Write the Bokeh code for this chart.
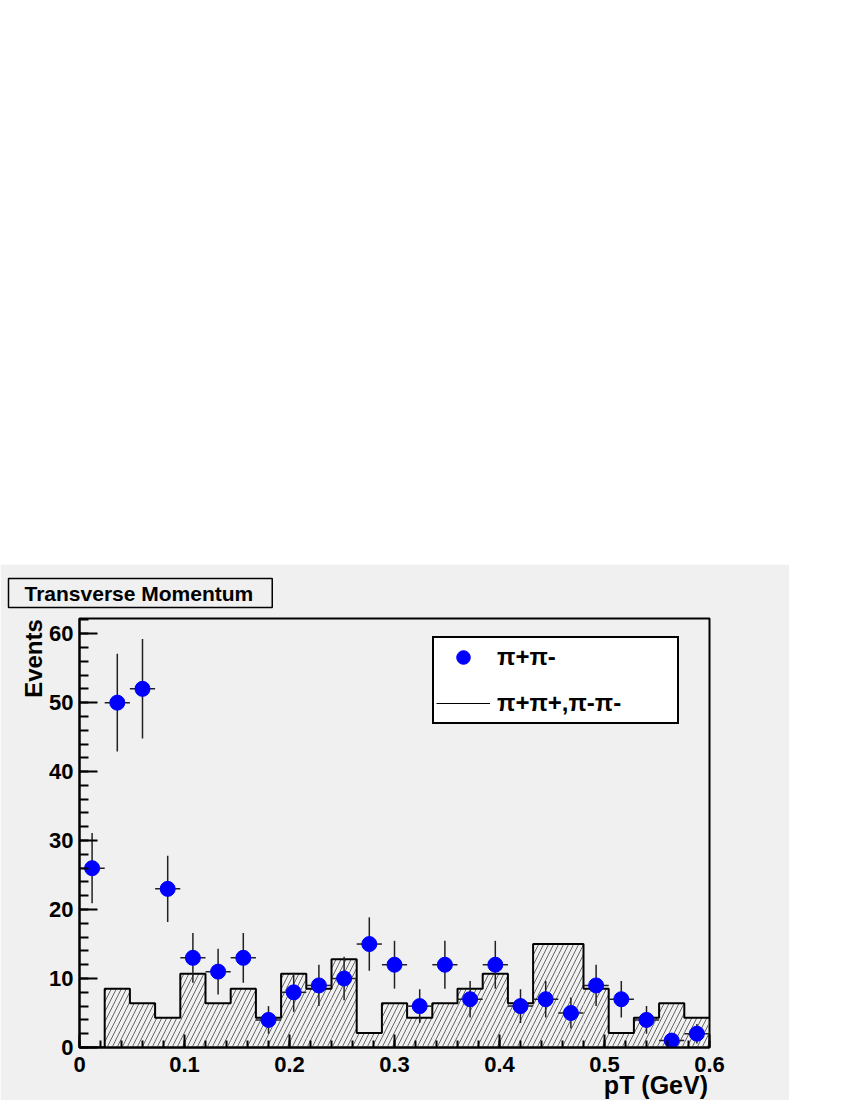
import numpy as np
from bokeh.plotting import figure
from bokeh.models import (Legend, LegendItem, FixedTicker, PrintfTickFormatter,
                          Spacer, ColumnDataSource, LinearAxis)
from bokeh.layouts import column
from bokeh.embed import file_html
from bokeh.resources import INLINE

# ---------------- data ----------------
x_min, x_max = 0.0, 0.6
n_bins = 25
# unlike-sign pairs (points with Poisson errors)
pipi_counts = [26, 50, 52, 23, 13, 11, 13, 4, 8, 9, 10, 15, 12, 6, 12, 7, 12, 6, 7, 5, 9, 7, 4, 1, 2]
# like-sign pairs (normalised hatched histogram)
like_sign = [0, 8.5, 6.4, 4.3, 10.7, 6.4, 8.5, 4.3, 10.7, 8.5, 12.8, 2.1, 6.4, 4.3, 6.4, 8.5,
             10.7, 6.4, 15.0, 15.0, 8.5, 2.1, 4.3, 6.4, 4.3]
x_ticks = [0, 0.1, 0.2, 0.3, 0.4, 0.5, 0.6]
y_ticks = [0, 10, 20, 30, 40, 50, 60]
title_text = "Transverse Momentum"
x_title = "pT (GeV)"
y_title = "Events"
legend_labels = ["π+π-", "π+π+,π-π-"]

edges = np.linspace(x_min, x_max, n_bins + 1)
width = edges[1] - edges[0]
centers = (edges[:-1] + edges[1:]) / 2
counts = np.array(pipi_counts, dtype=float)
errs = np.sqrt(counts)

FONT = "Liberation Sans"
CANVAS = "#f0f0f0"
Y_MAX = 62.2

p = figure(frame_width=630, frame_height=429, x_range=(x_min, x_max), y_range=(0, Y_MAX),
           output_backend="svg", toolbar_location=None,
           min_border_left=79, min_border_right=80, min_border_top=54, min_border_bottom=52,
           background_fill_color=CANVAS, border_fill_color=CANVAS,
           outline_line_color="black", outline_line_width=2, outline_line_alpha=1)
p.xgrid.visible = False
p.ygrid.visible = False

# hatched histogram
hist_src = ColumnDataSource(dict(left=edges[:-1], right=edges[1:], top=like_sign,
                                 bottom=[0] * n_bins))
p.quad(left="left", right="right", top="top", bottom="bottom", source=hist_src,
       fill_alpha=0, line_alpha=0, hatch_pattern="right_diagonal_line",
       hatch_color="#666666", hatch_scale=10, hatch_weight=1)
step_x = list(edges)
step_y = list(like_sign) + [like_sign[-1]]
p.step(x=step_x, y=step_y, mode="after", line_color="black", line_width=2)

# error bars
p.segment(x0=centers, x1=centers, y0=counts - errs, y1=counts + errs,
          line_color="#222222", line_width=1.5)
p.segment(x0=centers - width / 2, x1=centers + width / 2, y0=counts, y1=counts,
          line_color="#222222", line_width=1.5)
pts = p.scatter(x=centers, y=counts, size=15, marker="circle",
                fill_color="#0000ff", line_color="#0000ff")

dummy = p.line(x=np.array([np.nan]), y=np.array([np.nan]), line_color="black", line_width=1)

# axes
xa = p.xaxis[0]
ya = p.yaxis[0]
xa.ticker = FixedTicker(ticks=x_ticks,
                        minor_ticks=list(np.round(np.arange(0, 0.6001, 0.02), 4)))
ya.ticker = FixedTicker(ticks=y_ticks, minor_ticks=list(range(0, 63, 2)))
xa.formatter = PrintfTickFormatter(format="%g")
for ax, tin, min_in in ((xa, 13, 7), (ya, 18, 9)):
    ax.axis_line_width = 2
    ax.axis_line_color = "black"
    ax.major_tick_in = tin
    ax.major_tick_out = 0
    ax.minor_tick_in = min_in
    ax.minor_tick_out = 0
    ax.major_tick_line_width = 2
    ax.minor_tick_line_width = 2
    ax.major_tick_line_color = "black"
    ax.minor_tick_line_color = "black"
    ax.major_label_text_font = FONT
    ax.major_label_text_font_style = "bold"
    ax.major_label_text_font_size = "22px"
    ax.major_label_text_color = "black"
xa.major_label_standoff = 9
ya.major_label_standoff = 6

# axis titles as single-tick extra axes (ROOT style: placed at the axis ends)
x_title_pos = 0.549   # centre of the x title, in data units
y_title_pos = 56.4    # centre of the y title, in data units


def title_axis(tick, text, size, **kw):
    ax = LinearAxis(ticker=FixedTicker(ticks=[tick], minor_ticks=[]),
                    major_label_overrides={tick: text},
                    axis_line_alpha=0, major_tick_line_alpha=0, minor_tick_line_alpha=0,
                    major_tick_in=0, major_tick_out=0, minor_tick_in=0, minor_tick_out=0,
                    major_label_text_font=FONT, major_label_text_font_style="bold",
                    major_label_text_font_size=size, major_label_text_color="black", **kw)
    return ax


p.add_layout(title_axis(x_title_pos, x_title, "25px", major_label_standoff=-4), "below")
p.add_layout(title_axis(y_title_pos, y_title, "24px", major_label_standoff=-1,
                        major_label_orientation="parallel"), "left")

# legend
legend = Legend(items=[LegendItem(label=legend_labels[0], renderers=[pts]),
                       LegendItem(label=legend_labels[1], renderers=[dummy])],
                location=(353, 323), padding=2, spacing=12, margin=0,
                glyph_height=34, glyph_width=54, label_standoff=7,
                label_width=178, label_height=20,
                border_line_color="black", border_line_width=2, border_line_alpha=1,
                background_fill_color="white", background_fill_alpha=1,
                label_text_font=FONT, label_text_font_style="bold",
                label_text_color="black",
                label_text_font_size="24px", label_text_baseline="middle")
p.add_layout(legend)

# title box
t = p.title
t.text = title_text
t.align = "left"
t.offset = -71
t.vertical_align = "bottom"
t.standoff = 22
t.text_font = FONT
t.text_font_style = "bold"
t.text_font_size = "21px"
t.text_color = "black"
t.background_fill_color = CANVAS
t.border_line_color = "black"
t.border_line_width = 1.5
t.padding = dict(left=16, right=19, top=3, bottom=3)

layout = column(Spacer(width=789, height=564), p)
open("out.html", "w").write(file_html(layout, INLINE))
